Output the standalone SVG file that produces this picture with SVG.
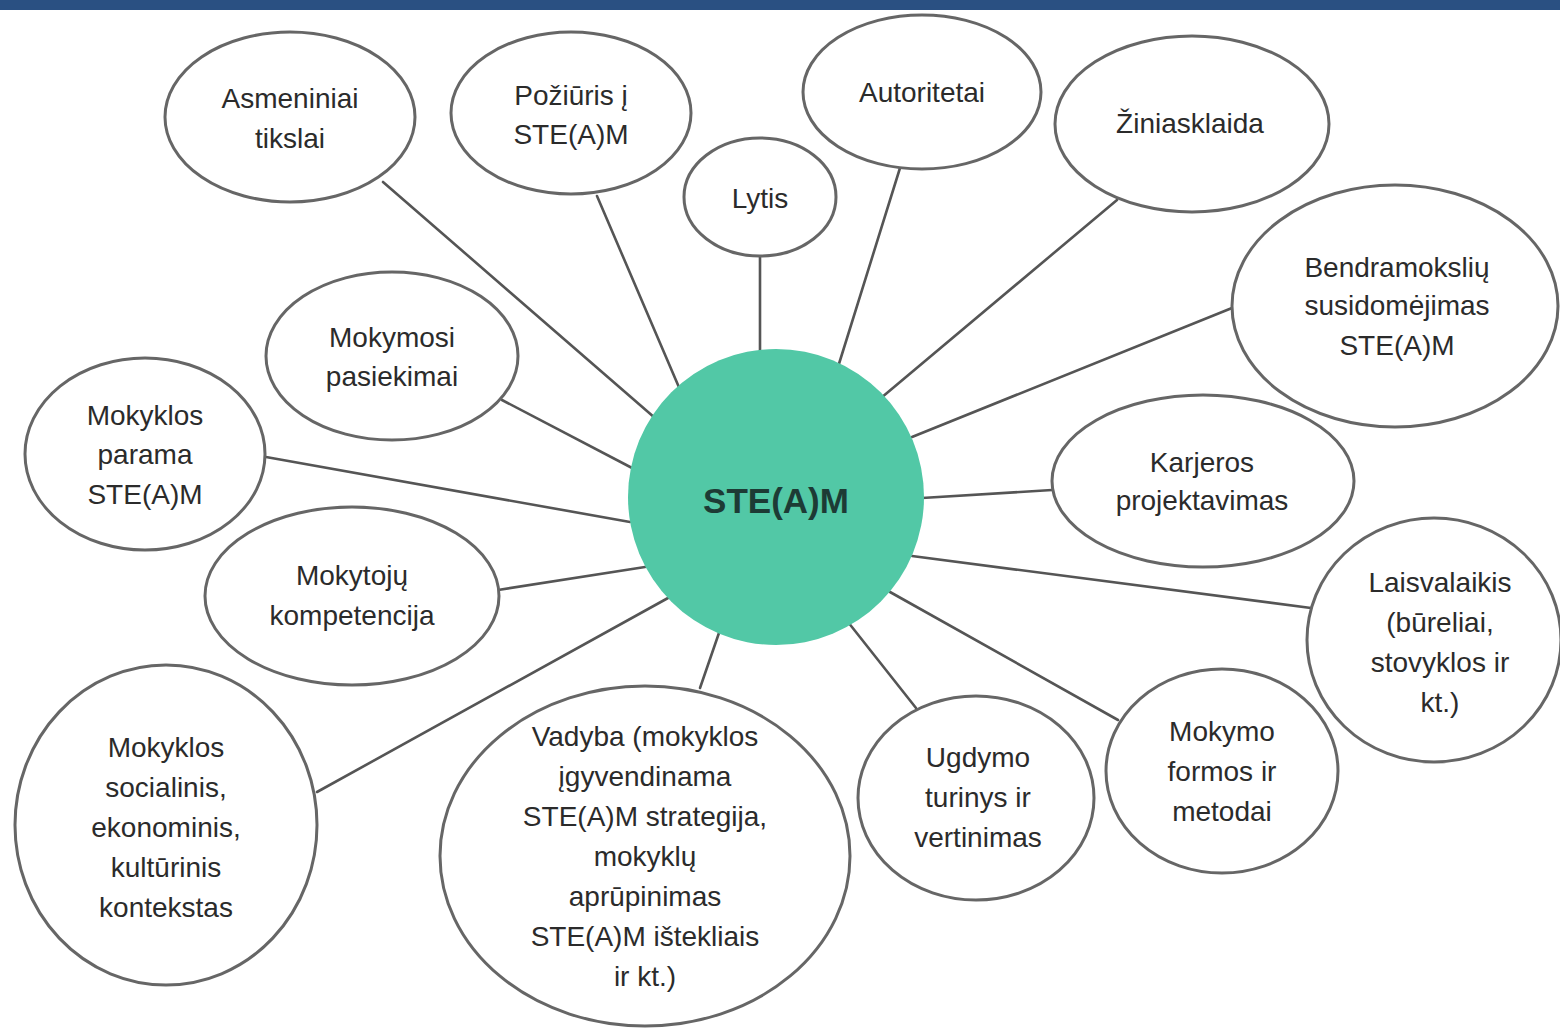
<svg xmlns="http://www.w3.org/2000/svg" width="1560" height="1028" viewBox="0 0 1560 1028">
<style>
.bg{fill:#ffffff}
.node ellipse{fill:#ffffff;stroke:#666666;stroke-width:3}
.node text{font-family:"Liberation Sans",Arial,sans-serif;font-size:28px;fill:#2b2b2b;text-anchor:middle}
#connectors line{stroke:#555555;stroke-width:2.6;stroke-linecap:round}
.hub circle{fill:#52c8a6}
.hub text{font-family:"Liberation Sans",Arial,sans-serif;font-size:35px;font-weight:bold;fill:#1d3b35;text-anchor:middle}
</style>
<rect class="bg" x="0" y="0" width="1560" height="1028"/>
<rect x="0" y="0" width="1560" height="10" fill="#2a5082"/>
<g id="connectors">
<line x1="383" y1="182" x2="655" y2="418"/>
<line x1="597" y1="196" x2="681" y2="392"/>
<line x1="760" y1="254" x2="760" y2="356"/>
<line x1="900" y1="168" x2="838" y2="367"/>
<line x1="1117" y1="200" x2="881" y2="398"/>
<line x1="1232" y1="308" x2="912" y2="437"/>
<line x1="1052" y1="490" x2="922" y2="498"/>
<line x1="1311" y1="608" x2="912" y2="556"/>
<line x1="1118" y1="720" x2="890" y2="592"/>
<line x1="916" y1="708" x2="848" y2="622"/>
<line x1="700" y1="688" x2="720" y2="630"/>
<line x1="317" y1="792" x2="668" y2="598"/>
<line x1="498" y1="590" x2="645" y2="567"/>
<line x1="266" y1="457" x2="630" y2="522"/>
<line x1="502" y1="400" x2="634" y2="469"/>
</g>
<g id="n-asmeniniai" class="node">
<ellipse cx="290" cy="117" rx="125" ry="85"/>
<text x="290" y="108">Asmeniniai</text>
<text x="290" y="148">tikslai</text>
</g>
<g id="n-poziuris" class="node">
<ellipse cx="571" cy="113" rx="120" ry="81"/>
<text x="571" y="105">Požiūris į</text>
<text x="571" y="144">STE(A)M</text>
</g>
<g id="n-lytis" class="node">
<ellipse cx="760" cy="197" rx="76" ry="59"/>
<text x="760" y="208">Lytis</text>
</g>
<g id="n-autoritetai" class="node">
<ellipse cx="922" cy="92" rx="119" ry="77"/>
<text x="922" y="102">Autoritetai</text>
</g>
<g id="n-ziniasklaida" class="node">
<ellipse cx="1192" cy="124" rx="137" ry="88"/>
<text x="1190" y="133">Žiniasklaida</text>
</g>
<g id="n-bendramoksliu" class="node">
<ellipse cx="1395" cy="306" rx="163" ry="121"/>
<text x="1397" y="277">Bendramokslių</text>
<text x="1397" y="315">susidomėjimas</text>
<text x="1397" y="355">STE(A)M</text>
</g>
<g id="n-karjeros" class="node">
<ellipse cx="1203" cy="481" rx="151" ry="86"/>
<text x="1202" y="472">Karjeros</text>
<text x="1202" y="510">projektavimas</text>
</g>
<g id="n-laisvalaikis" class="node">
<ellipse cx="1434" cy="640" rx="127" ry="122"/>
<text x="1440" y="592">Laisvalaikis</text>
<text x="1440" y="632">(būreliai,</text>
<text x="1440" y="672">stovyklos ir</text>
<text x="1440" y="712">kt.)</text>
</g>
<g id="n-mokymo" class="node">
<ellipse cx="1222" cy="771" rx="116" ry="102"/>
<text x="1222" y="741">Mokymo</text>
<text x="1222" y="781">formos ir</text>
<text x="1222" y="821">metodai</text>
</g>
<g id="n-ugdymo" class="node">
<ellipse cx="976" cy="798" rx="118" ry="102"/>
<text x="978" y="767">Ugdymo</text>
<text x="978" y="807">turinys ir</text>
<text x="978" y="847">vertinimas</text>
</g>
<g id="n-vadyba" class="node">
<ellipse cx="645" cy="856" rx="205" ry="170"/>
<text x="645" y="746">Vadyba (mokyklos</text>
<text x="645" y="786">įgyvendinama</text>
<text x="645" y="826">STE(A)M strategija,</text>
<text x="645" y="866">mokyklų</text>
<text x="645" y="906">aprūpinimas</text>
<text x="645" y="946">STE(A)M ištekliais</text>
<text x="645" y="986">ir kt.)</text>
</g>
<g id="n-kontekstas" class="node">
<ellipse cx="166" cy="825" rx="151" ry="160"/>
<text x="166" y="757">Mokyklos</text>
<text x="166" y="797">socialinis,</text>
<text x="166" y="837">ekonominis,</text>
<text x="166" y="877">kultūrinis</text>
<text x="166" y="917">kontekstas</text>
</g>
<g id="n-mokytoju" class="node">
<ellipse cx="352" cy="596" rx="147" ry="89"/>
<text x="352" y="585">Mokytojų</text>
<text x="352" y="625">kompetencija</text>
</g>
<g id="n-parama" class="node">
<ellipse cx="145" cy="454" rx="120" ry="96"/>
<text x="145" y="425">Mokyklos</text>
<text x="145" y="464">parama</text>
<text x="145" y="504">STE(A)M</text>
</g>
<g id="n-mokymosi" class="node">
<ellipse cx="392" cy="356" rx="126" ry="84"/>
<text x="392" y="347">Mokymosi</text>
<text x="392" y="386">pasiekimai</text>
</g>
<g id="n-steam" class="hub">
<circle cx="776" cy="497" r="148"/>
<text x="776" y="513">STE(A)M</text>
</g>
</svg>
